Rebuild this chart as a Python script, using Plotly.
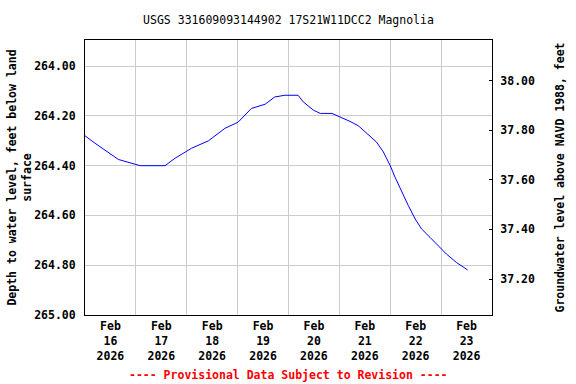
import plotly.graph_objects as go

# ---- data ----
times = [
    "2026-02-16 00:00", "2026-02-16 04:45", "2026-02-16 15:45", "2026-02-16 21:15",
    "2026-02-17 02:00", "2026-02-17 13:45", "2026-02-17 18:30", "2026-02-18 02:15",
    "2026-02-18 10:15", "2026-02-18 18:00", "2026-02-19 00:15", "2026-02-19 06:30",
    "2026-02-19 13:00", "2026-02-19 17:30", "2026-02-19 22:15", "2026-02-20 04:30",
    "2026-02-20 07:00", "2026-02-20 11:45", "2026-02-20 15:00", "2026-02-20 20:30",
    "2026-02-21 00:15", "2026-02-21 05:00", "2026-02-21 09:00", "2026-02-21 13:00",
    "2026-02-21 17:30", "2026-02-21 20:45", "2026-02-22 00:00", "2026-02-22 02:15",
    "2026-02-22 05:30", "2026-02-22 08:30", "2026-02-22 11:45", "2026-02-22 14:45",
    "2026-02-22 18:45", "2026-02-22 22:30", "2026-02-23 02:30", "2026-02-23 07:15",
    "2026-02-23 12:30",
]
depth = [
    264.28, 264.31, 264.375, 264.39,
    264.40, 264.40, 264.37, 264.33,
    264.30, 264.25, 264.225, 264.17,
    264.153, 264.124, 264.117, 264.117,
    264.144, 264.177, 264.19, 264.19,
    264.204, 264.222, 264.24, 264.271,
    264.305, 264.345, 264.40, 264.446,
    264.507, 264.56, 264.614, 264.654,
    264.688, 264.722, 264.755, 264.789,
    264.819,
]
datum = 302.059  # land surface elevation offset (NAVD 1988)

tick_vals = ["2026-02-16 12:00", "2026-02-17 12:00", "2026-02-18 12:00", "2026-02-19 12:00",
             "2026-02-20 12:00", "2026-02-21 12:00", "2026-02-22 12:00", "2026-02-23 12:00"]
tick_text = ["Feb<br>16<br>2026", "Feb<br>17<br>2026", "Feb<br>18<br>2026", "Feb<br>19<br>2026",
             "Feb<br>20<br>2026", "Feb<br>21<br>2026", "Feb<br>22<br>2026", "Feb<br>23<br>2026"]
grid_days = ["2026-02-17", "2026-02-18", "2026-02-19", "2026-02-20",
             "2026-02-21", "2026-02-22", "2026-02-23"]
left_ticks = [264.0, 264.2, 264.4, 264.6, 264.8, 265.0]
right_ticks = [37.2, 37.4, 37.6, 37.8, 38.0]

FONT = "DejaVu Sans Mono"
FS = 11.5

elev = [datum - d for d in depth]

fig = go.Figure()
fig.add_trace(go.Scatter(x=times, y=depth, mode="lines",
                         line=dict(color="#0000ff", width=1), showlegend=False,
                         hoverinfo="skip"))
fig.add_trace(go.Scatter(x=times, y=elev, mode="lines", yaxis="y2",
                         line=dict(color="rgba(0,0,0,0)", width=0), showlegend=False,
                         hoverinfo="skip"))

fig.update_layout(
    width=576, height=384,
    margin=dict(l=85, r=84, t=40, b=69, autoexpand=False),
    paper_bgcolor="white", plot_bgcolor="white",
    title=dict(text="USGS 331609093144902 17S21W11DCC2 Magnolia",
               x=0.5, xref="paper", xanchor="center", y=1 - 20 / 384, yanchor="middle",
               font=dict(family=FONT, size=FS, color="black")),
    xaxis=dict(
        type="date", range=["2026-02-16", "2026-02-24"],
        tickmode="array", tickvals=tick_vals, ticktext=tick_text,
        showgrid=False, ticks="", automargin=False,
        tickfont=dict(family=FONT, size=FS, color="black", weight="bold"),
        minor=dict(tickmode="array", tickvals=grid_days, showgrid=True,
                   gridcolor="#cccccc", gridwidth=1, ticks=""),
        showline=True, linecolor="black", linewidth=1, mirror=True,
        zeroline=False,
    ),
    yaxis=dict(
        range=[265.0, 263.895], automargin=False,
        tickmode="array", tickvals=left_ticks, tickformat=".2f",
        showgrid=True, gridcolor="#cccccc", gridwidth=1, ticks="",
        ticklabelstandoff=6,
        tickfont=dict(family=FONT, size=FS, color="black", weight="bold"),
        showline=True, linecolor="black", linewidth=1, mirror=True,
        zeroline=False,
        title=dict(text="Depth to water level, feet below land<br>surface",
                   font=dict(family=FONT, size=FS, color="black", weight="bold"),
                   standoff=0),
    ),
    yaxis2=dict(
        overlaying="y", side="right", automargin=False,
        range=[37.055, 38.164],
        tickmode="array", tickvals=right_ticks, tickformat=".2f",
        showgrid=False, ticks="inside", ticklen=3, tickcolor="black",
        ticklabelstandoff=5,
        tickfont=dict(family=FONT, size=FS, color="black", weight="bold"),
        showline=True, linecolor="black", linewidth=1,
        zeroline=False,
        title=dict(text="Groundwater level above NAVD 1988, feet",
                   font=dict(family=FONT, size=FS, color="black", weight="bold"),
                   standoff=21),
    ),
    annotations=[dict(
        text="---- Provisional Data Subject to Revision ----",
        xref="paper", yref="paper", x=0.5, y=-(375 - 315) / 275,
        xanchor="center", yanchor="middle", showarrow=False,
        font=dict(family=FONT, size=FS, color="red", weight="bold"),
    )],
)

fig.write_html("out.html", config={"displayModeBar": False},
               post_script="document.body.style.margin='0';document.body.style.padding='0';")
